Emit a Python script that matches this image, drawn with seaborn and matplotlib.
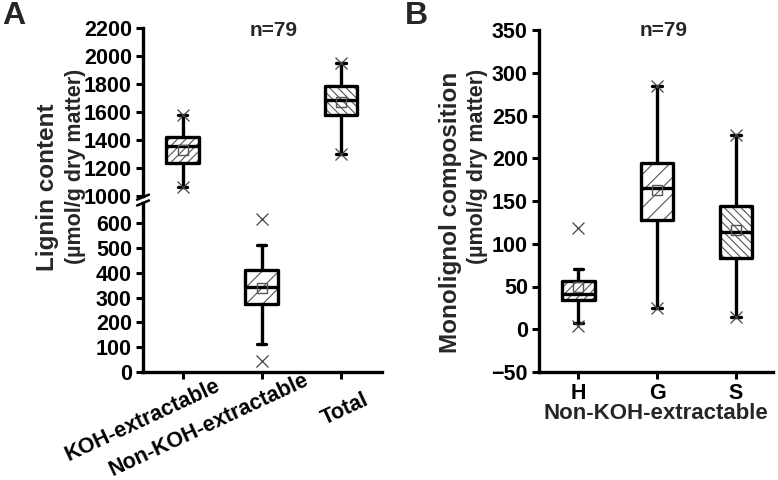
import matplotlib
matplotlib.use("Agg")
import matplotlib.pyplot as plt
import matplotlib.transforms as mtransforms
import seaborn as sns

# ---- Panel A: lignin content (umol/g dry matter), n=79 ----
lignin_cats = ["KOH-extractable", "Non-KOH-extractable", "Total"]
lignin_q1 = [1236, 274, 1580]
lignin_med = [1358, 343, 1686]
lignin_q3 = [1421, 410, 1788]
lignin_mean = [1330, 340, 1672]
lignin_whislo = [1064, 112, 1302]
lignin_whishi = [1578, 513, 1950]
lignin_p01 = [1064, 45, 1302]
lignin_p99 = [1580, 617, 1952]

# ---- Panel B: monolignol composition, non-KOH-extractable ----
mono_cats = ["H", "G", "S"]
mono_q1 = [34, 128, 83]
mono_med = [41, 165, 114]
mono_q3 = [57, 195, 144]
mono_mean = [49, 163, 116]
mono_whislo = [7, 25, 14]
mono_whishi = [71, 285, 227]
mono_p01 = [4, 25, 14]
mono_p99 = [119, 285, 227]

sns.set_style("ticks")
plt.rcParams["font.family"] = ["Liberation Sans", "DejaVu Sans"]
plt.rcParams["font.weight"] = "bold"
plt.rcParams["hatch.linewidth"] = 0.8

TICK_FS = 15.5


def make_stats(q1, med, q3, mean, lo, hi, p01, p99):
    stats = []
    for i in range(len(q1)):
        stats.append(dict(q1=q1[i], med=med[i], q3=q3[i], mean=mean[i],
                          whislo=lo[i], whishi=hi[i], fliers=[p01[i], p99[i]]))
    return stats


def draw_boxes(ax, stats, hatches):
    pos = list(range(len(stats)))
    # hatched fill
    fill = ax.bxp(stats, positions=pos, widths=0.41, patch_artist=True,
                  showmeans=False, showfliers=False, showcaps=False,
                  boxprops=dict(facecolor="white", edgecolor="#555555", linewidth=0),
                  whiskerprops=dict(linewidth=0), medianprops=dict(linewidth=0))
    for patch, h in zip(fill["boxes"], hatches):
        patch.set_hatch(h)
    # outlines, whiskers, means, 1%/99% crosses
    ax.bxp(stats, positions=pos, widths=0.41, capwidths=0.12,
           showmeans=True, showfliers=True,
           boxprops=dict(color="black", linewidth=2.4),
           whiskerprops=dict(color="black", linewidth=2.4),
           capprops=dict(color="black", linewidth=2.4),
           medianprops=dict(color="black", linewidth=2.4),
           meanprops=dict(marker="s", markersize=6.5, markerfacecolor="none",
                          markeredgecolor="#555555", markeredgewidth=1),
           flierprops=dict(marker="x", markersize=9, markeredgecolor="#444444",
                           markeredgewidth=0.9))


def style_axis(ax):
    ax.tick_params(direction="out", length=5, width=2.2, labelsize=TICK_FS,
                   colors="black", pad=3)
    for s in ax.spines.values():
        s.set_linewidth(2.4)
        s.set_color("black")


fig = plt.figure(figsize=(7.78, 4.80), dpi=100)

# panel A (broken axis)
axA_top = fig.add_axes([0.1838, 0.5917, 0.3072, 0.35])
axA_bot = fig.add_axes([0.1838, 0.2244, 0.3072, 0.3527])

statsA = make_stats(lignin_q1, lignin_med, lignin_q3, lignin_mean,
                    lignin_whislo, lignin_whishi, lignin_p01, lignin_p99)
hatchA = ["////", "//", "\\\\\\\\"]
for ax in (axA_top, axA_bot):
    draw_boxes(ax, statsA, hatchA)
    ax.set_xlim(-0.5, 2.52)
    style_axis(ax)

axA_top.set_ylim(1000, 2200)
axA_top.set_yticks(range(1000, 2201, 200))
axA_top.set_xticks([])
sns.despine(ax=axA_top, top=True, right=True, bottom=True)

axA_bot.set_ylim(0, 680)
axA_bot.set_yticks(range(0, 601, 100))
axA_bot.set_xticks(range(len(lignin_cats)))
axA_bot.set_xticklabels(lignin_cats, rotation=25, ha="center", fontsize=TICK_FS)
sns.despine(ax=axA_bot, top=True, right=True)

# shift rotated tick labels like the original
shifts = [(-40, 8), (-53, 14), (4, -6)]
for lab, (dx, dy) in zip(axA_bot.get_xticklabels(), shifts):
    lab.set_transform(lab.get_transform() +
                      mtransforms.ScaledTranslation(dx / 100, dy / 100, fig.dpi_scale_trans))

# break marks
kw = dict(color="black", linewidth=1.8, clip_on=False)
axA_top.plot([-0.025, 0.025], [-0.022, 0.008], transform=axA_top.transAxes, **kw)
axA_bot.plot([-0.025, 0.025], [0.985, 1.015], transform=axA_bot.transAxes, **kw)

# panel B
axB = fig.add_axes([0.6928, 0.225, 0.3008, 0.7125])
statsB = make_stats(mono_q1, mono_med, mono_q3, mono_mean,
                    mono_whislo, mono_whishi, mono_p01, mono_p99)
draw_boxes(axB, statsB, ["////", "//", "\\\\\\\\"])
axB.set_xlim(-0.5, 2.47)
axB.set_ylim(-50, 350)
axB.set_yticks(range(-50, 351, 50))
axB.set_xticks(range(len(mono_cats)))
axB.set_xticklabels(mono_cats, fontsize=TICK_FS)
axB.set_xlabel("Non-KOH-extractable", fontsize=16, fontweight="bold", labelpad=-1)
style_axis(axB)
sns.despine(ax=axB, top=True, right=True)

# texts
fig.text(14 / 778, 1 - 16 / 480, "A", fontsize=23, fontweight="bold", ha="center", va="center")
fig.text(416 / 778, 1 - 16 / 480, "B", fontsize=23, fontweight="bold", ha="center", va="center")
fig.text(274 / 778, 1 - 30 / 480, "n=79", fontsize=15, fontweight="bold", ha="center", va="center")
fig.text(664 / 778, 1 - 30 / 480, "n=79", fontsize=15, fontweight="bold", ha="center", va="center")

fig.text(48 / 778, 1 - 187 / 480, "Lignin content", fontsize=17.5, fontweight="bold",
         rotation=90, ha="center", va="center")
fig.text(76 / 778, 1 - 166 / 480, "(\u00b5mol/g dry matter)", fontsize=15.5, fontweight="bold",
         rotation=90, ha="center", va="center")
fig.text(451 / 778, 1 - 212 / 480, "Monolignol composition", fontsize=17.5, fontweight="bold",
         rotation=90, ha="center", va="center")
fig.text(477 / 778, 1 - 166 / 480, "(\u00b5mol/g dry matter)", fontsize=15.5, fontweight="bold",
         rotation=90, ha="center", va="center")

fig.savefig("out.png", dpi=100)
